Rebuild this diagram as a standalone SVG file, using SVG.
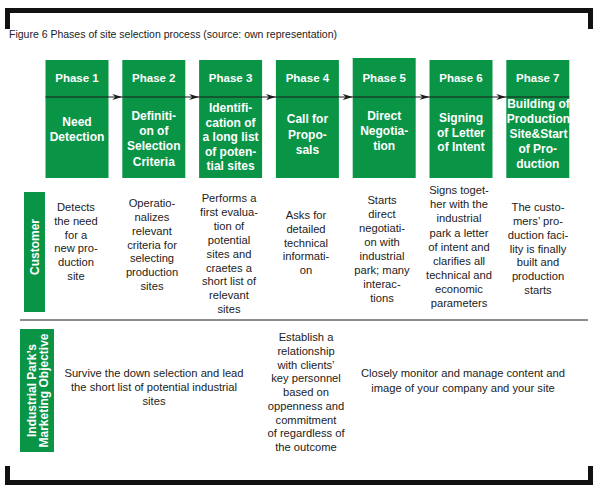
<svg xmlns="http://www.w3.org/2000/svg" width="598" height="489" viewBox="0 0 598 489">
<defs>
<marker id="ah" viewBox="0 0 10 6" refX="10" refY="3" markerWidth="10" markerHeight="6" markerUnits="userSpaceOnUse" orient="auto">
<path d="M0,0 L10,3 L0,6 L3,3 Z" fill="#1a1a1a"/>
</marker>
<style>
.box{fill:#0a9446}
.ph{font-family:"Liberation Sans",Arial,sans-serif;font-size:11.5px;font-weight:bold;fill:#fff;text-anchor:middle}
.tt{font-family:"Liberation Sans",Arial,sans-serif;font-size:12px;font-weight:bold;fill:#fff;text-anchor:middle}
.d{font-family:"Liberation Sans",Arial,sans-serif;font-size:11.2px;fill:#222;text-anchor:middle}
.lab{font-family:"Liberation Sans",Arial,sans-serif;font-size:12px;font-weight:bold;fill:#fff;text-anchor:middle}
.frame{fill:#111}
.con{stroke:#1a1a1a;stroke-width:1.2;fill:none}
</style>
</defs>
<rect width="598" height="489" fill="#fff"/>
<g id="frame">
<rect class="frame" x="5" y="8" width="588" height="5"/>
<rect class="frame" x="5" y="8" width="5" height="21"/>
<rect class="frame" x="588" y="8" width="5" height="21"/>
<rect class="frame" x="5" y="480" width="588" height="5"/>
<rect class="frame" x="5" y="466" width="5" height="19"/>
<rect class="frame" x="588" y="466" width="5" height="19"/>
</g>
<text x="9" y="38" style="font-family:'Liberation Sans',Arial,sans-serif;font-size:10.5px;fill:#222">Figure 6 Phases of site selection process (source: own representation)</text>

<g id="phase1">
<rect class="box" x="45.5" y="60" width="63" height="118"/>
<text class="ph" x="77" y="82">Phase 1</text>
<text class="tt" x="77" y="126">Need</text>
<text class="tt" x="77" y="141">Detection</text>
</g>
<g id="phase2">
<rect class="box" x="122.3" y="60" width="63" height="118"/>
<text class="ph" x="153.8" y="82">Phase 2</text>
<text class="tt" x="153.8" y="120">Definiti-</text>
<text class="tt" x="153.8" y="135">on of</text>
<text class="tt" x="153.8" y="150">Selection</text>
<text class="tt" x="153.8" y="166">Criteria</text>
</g>
<g id="phase3">
<rect class="box" x="199.1" y="60" width="63" height="118"/>
<text class="ph" x="230.6" y="82">Phase 3</text>
<text class="tt" x="230.6" y="112">Identifi-</text>
<text class="tt" x="230.6" y="126.5">cation of</text>
<text class="tt" x="230.6" y="141">a long list</text>
<text class="tt" x="230.6" y="155.5">of poten-</text>
<text class="tt" x="230.6" y="170">tial sites</text>
</g>
<g id="phase4">
<rect class="box" x="275.9" y="60" width="63" height="118"/>
<text class="ph" x="307.4" y="82">Phase 4</text>
<text class="tt" x="307.4" y="123">Call for</text>
<text class="tt" x="307.4" y="138.5">Propo-</text>
<text class="tt" x="307.4" y="154">sals</text>
</g>
<g id="phase5">
<rect class="box" x="352.7" y="58" width="63" height="120"/>
<text class="ph" x="384.2" y="82">Phase 5</text>
<text class="tt" x="384.2" y="120">Direct</text>
<text class="tt" x="384.2" y="135">Negotia-</text>
<text class="tt" x="384.2" y="150">tion</text>
</g>
<g id="phase6">
<rect class="box" x="429.5" y="60" width="63" height="118"/>
<text class="ph" x="461" y="82">Phase 6</text>
<text class="tt" x="461" y="122">Signing</text>
<text class="tt" x="461" y="136.5">of Letter</text>
<text class="tt" x="461" y="151">of Intent</text>
</g>
<g id="phase7">
<rect class="box" x="506.3" y="60" width="63" height="118"/>
<text class="ph" x="537.8" y="82">Phase 7</text>
<text class="tt" x="538.5" y="108">Building of</text>
<text class="tt" x="538.5" y="122.5">Production</text>
<text class="tt" x="538.5" y="137.5">Site&amp;Start</text>
<text class="tt" x="537.8" y="152.5">of Pro-</text>
<text class="tt" x="537.8" y="167.5">duction</text>
</g>

<g id="connectors">
<line class="con" x1="45.5" y1="97" x2="122.3" y2="97" marker-end="url(#ah)"/>
<line class="con" x1="122.3" y1="97" x2="199.1" y2="97" marker-end="url(#ah)"/>
<line class="con" x1="199.1" y1="97" x2="275.9" y2="97" marker-end="url(#ah)"/>
<line class="con" x1="275.9" y1="97" x2="352.7" y2="97" marker-end="url(#ah)"/>
<line class="con" x1="352.7" y1="97" x2="429.5" y2="97" marker-end="url(#ah)"/>
<line class="con" x1="429.5" y1="97" x2="506.3" y2="97" marker-end="url(#ah)"/>
<line class="con" x1="506.3" y1="97" x2="569.3" y2="97"/>
</g>

<g id="customer">
<rect class="box" x="24" y="192" width="21" height="120"/>
<text class="lab" transform="translate(38.5,247) rotate(-90)">Customer</text>
</g>
<g id="customer-texts">
<text class="d"><tspan x="76" y="211">Detects</tspan><tspan x="76" y="225">the need</tspan><tspan x="76" y="238.5">for a</tspan><tspan x="76" y="252">new pro-</tspan><tspan x="76" y="266">duction</tspan><tspan x="76" y="280">site</tspan></text>
<text class="d"><tspan x="152" y="207">Operatio-</tspan><tspan x="152" y="221">nalizes</tspan><tspan x="152" y="235">relevant</tspan><tspan x="152" y="248.5">criteria for</tspan><tspan x="152" y="262">selecting</tspan><tspan x="152" y="276">production</tspan><tspan x="152" y="290">sites</tspan></text>
<text class="d"><tspan x="229" y="202">Performs a</tspan><tspan x="229" y="216">first evalua-</tspan><tspan x="229" y="230">tion of</tspan><tspan x="229" y="243.5">potential</tspan><tspan x="229" y="257.5">sites and</tspan><tspan x="229" y="271.5">craetes a</tspan><tspan x="229" y="285">short list of</tspan><tspan x="229" y="299">relevant</tspan><tspan x="229" y="313">sites</tspan></text>
<text class="d"><tspan x="306" y="219">Asks for</tspan><tspan x="306" y="233">detailed</tspan><tspan x="306" y="246.5">technical</tspan><tspan x="306" y="260">informati-</tspan><tspan x="306" y="274">on</tspan></text>
<text class="d"><tspan x="382" y="204">Starts</tspan><tspan x="382" y="218">direct</tspan><tspan x="382" y="232">negotiati-</tspan><tspan x="382" y="246">on with</tspan><tspan x="382" y="260">industrial</tspan><tspan x="382" y="274">park; many</tspan><tspan x="382" y="288">interac-</tspan><tspan x="382" y="302">tions</tspan></text>
<text class="d"><tspan x="459" y="194">Signs toget-</tspan><tspan x="459" y="208">her with the</tspan><tspan x="459" y="222">industrial</tspan><tspan x="459" y="236.5">park a letter</tspan><tspan x="459" y="250.5">of intent and</tspan><tspan x="459" y="264.5">clarifies all</tspan><tspan x="459" y="278.5">technical and</tspan><tspan x="459" y="293">economic</tspan><tspan x="459" y="307">parameters</tspan></text>
<text class="d"><tspan x="538" y="211">The custo-</tspan><tspan x="538" y="225">mers’ pro-</tspan><tspan x="538" y="239">duction faci-</tspan><tspan x="538" y="252.5">lity is finally</tspan><tspan x="538" y="266">built and</tspan><tspan x="538" y="280">production</tspan><tspan x="538" y="294">starts</tspan></text>
</g>

<line x1="20" y1="320" x2="588" y2="320" stroke="#1a1a1a" stroke-width="1"/>

<g id="marketing">
<rect class="box" x="20" y="329" width="34" height="123"/>
<text class="lab" transform="translate(36,390.5) rotate(-90)">Industrial Park’s</text>
<text class="lab" transform="translate(48,390.5) rotate(-90)">Marketing Objective</text>
</g>
<g id="marketing-texts">
<text class="d"><tspan x="154" y="377">Survive the down selection and lead</tspan><tspan x="154" y="391">the short list of potential industrial</tspan><tspan x="154" y="405">sites</tspan></text>
<text class="d"><tspan x="306" y="341">Establish a</tspan><tspan x="306" y="355">relationship</tspan><tspan x="306" y="368.5">with clients’</tspan><tspan x="306" y="382">key personnel</tspan><tspan x="306" y="396">based on</tspan><tspan x="306" y="410">oppenness and</tspan><tspan x="306" y="423.5">commitment</tspan><tspan x="306" y="437">of regardless of</tspan><tspan x="306" y="451">the outcome</tspan></text>
<text class="d"><tspan x="463" y="377">Closely monitor and manage content and</tspan><tspan x="463" y="391.5">image of your company and your site</tspan></text>
</g>
</svg>
